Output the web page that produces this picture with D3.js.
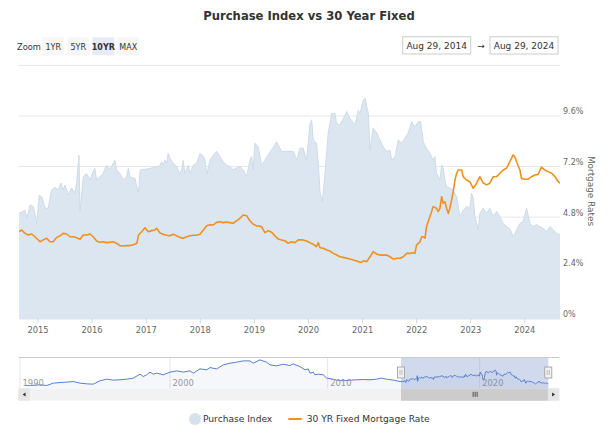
<!DOCTYPE html>
<html><head><meta charset="utf-8">
<script src="https://cdn.jsdelivr.net/npm/d3@7"></script>
<style>
body{margin:0;background:#fff}
svg{display:block}
text{font-family:"DejaVu Sans","Lucida Grande",Arial,sans-serif}
</style>
</head><body>
<svg id="c" width="610" height="435"></svg>
<script>
// ---------- DATA ----------
const chartTitle = "Purchase Index vs 30 Year Fixed";
const zoomButtons = ["1YR","5YR","10YR","MAX"];
const selectedButton = "10YR";
const rangeFromLabel = "Aug 29, 2014";
const rangeToLabel = "Aug 29, 2024";
const rangeStart = "2014-08-29";
const rangeEnd = "2024-08-29";
const yearTicks = [2015,2016,2017,2018,2019,2020,2021,2022,2023,2024];
const rateTicks = [0,2.4,4.8,7.2,9.6,12];
const navYearTicks = [1990,2000,2010,2020];
const legendItems = ["Purchase Index","30 YR Fixed Mortgage Rate"];
const rateAxisTitle = "Mortgage Rates";

const purchaseDates = ["2014-08-29","2014-10-09","2014-10-20","2014-11-12","2014-12-04","2014-12-27","2015-01-13","2015-01-29","2015-02-21","2015-03-14","2015-04-06","2015-04-28","2015-05-21","2015-06-08","2015-06-24","2015-07-05","2015-07-27","2015-08-19","2015-09-11","2015-09-22","2015-10-08","2015-10-15","2015-11-06","2015-11-29","2015-12-21","2016-01-12","2016-01-23","2016-02-04","2016-02-26","2016-03-19","2016-04-11","2016-05-04","2016-05-26","2016-06-06","2016-06-18","2016-07-10","2016-08-02","2016-08-25","2016-09-05","2016-09-17","2016-10-21","2016-11-02","2016-11-13","2016-11-24","2017-01-08","2017-04-06","2017-04-18","2017-04-28","2017-05-10","2017-05-21","2017-06-02","2017-06-13","2017-07-05","2017-07-28","2017-08-19","2017-08-31","2017-09-11","2017-09-22","2017-10-15","2017-10-26","2017-11-18","2017-12-11","2018-01-02","2018-01-25","2018-02-05","2018-02-17","2018-03-11","2018-04-02","2018-04-25","2018-05-17","2018-06-08","2018-07-01","2018-07-23","2018-08-14","2018-09-28","2018-10-21","2018-11-13","2018-12-05","2018-12-16","2018-12-27","2019-01-08","2019-01-30","2019-02-22","2019-03-16","2019-06-04","2019-07-07","2019-09-24","2019-10-17","2019-11-08","2019-11-30","2019-12-23","2020-01-14","2020-01-26","2020-02-06","2020-02-28","2020-03-11","2020-03-23","2020-04-07","2020-04-25","2020-05-17","2020-06-09","2020-07-01","2020-07-13","2020-08-04","2020-08-27","2020-09-19","2020-10-11","2020-11-14","2020-12-06","2020-12-17","2021-01-09","2021-01-21","2021-02-01","2021-02-12","2021-02-23","2021-03-17","2021-04-09","2021-05-01","2021-05-24","2021-06-16","2021-07-08","2021-07-19","2021-08-11","2021-09-02","2021-09-25","2021-10-17","2021-11-08","2021-12-01","2021-12-23","2022-01-15","2022-01-31","2022-02-18","2022-03-12","2022-04-03","2022-04-26","2022-05-07","2022-05-18","2022-06-10","2022-06-22","2022-07-02","2022-07-14","2022-07-25","2022-08-16","2022-09-08","2022-10-01","2022-10-23","2022-11-14","2022-12-07","2022-12-29","2023-01-10","2023-01-21","2023-02-02","2023-02-24","2023-03-07","2023-03-29","2023-04-21","2023-05-13","2023-06-05","2023-06-28","2023-07-20","2023-08-11","2023-09-03","2023-09-25","2023-10-18","2023-11-10","2023-12-02","2023-12-24","2024-01-16","2024-02-08","2024-03-01","2024-03-24","2024-04-15","2024-05-08","2024-05-31","2024-06-22","2024-07-14","2024-08-06","2024-08-29"];
const purchaseValues = [166,171,158,179,177,150,195,192,174,174,203,207,203,214,203,211,195,206,198,214,258,169,224,229,219,232,237,219,224,229,242,235,245,250,235,229,219,224,237,224,221,208,198,235,236,241,248,242,250,245,261,253,245,240,229,235,250,229,242,229,242,245,261,256,250,227,250,258,264,256,248,242,240,235,240,235,224,250,256,235,277,271,242,250,279,264,264,250,269,269,250,306,314,282,277,245,198,184,229,293,324,324,308,306,316,327,316,306,329,324,345,348,335,324,266,301,293,282,271,264,266,250,256,282,277,285,293,311,303,311,311,279,269,261,250,256,229,219,242,237,219,208,206,203,192,161,171,177,174,198,190,161,140,166,174,166,174,161,169,161,150,145,142,129,140,150,153,174,150,145,148,145,142,137,145,140,134,132];

const rateDates = ["2014-08-29","2014-09-16","2014-10-09","2014-10-31","2014-11-23","2014-12-15","2015-01-18","2015-02-09","2015-03-04","2015-03-26","2015-04-17","2015-05-10","2015-06-02","2015-06-24","2015-07-17","2015-08-08","2015-08-31","2015-09-22","2015-10-15","2015-11-06","2015-11-29","2015-12-21","2016-01-12","2016-02-04","2016-02-26","2016-03-19","2016-04-11","2016-05-04","2016-05-26","2016-06-18","2016-07-10","2016-08-02","2016-08-25","2016-09-17","2016-10-10","2016-11-02","2016-11-13","2016-12-05","2016-12-27","2017-01-18","2017-02-10","2017-03-04","2017-03-15","2017-04-06","2017-04-28","2017-05-21","2017-06-13","2017-07-05","2017-07-28","2017-08-19","2017-09-11","2017-10-04","2017-10-26","2017-11-18","2017-12-11","2018-01-02","2018-01-25","2018-02-17","2018-03-11","2018-04-02","2018-04-25","2018-05-17","2018-06-08","2018-07-01","2018-07-23","2018-08-14","2018-09-06","2018-09-28","2018-10-21","2018-11-13","2018-12-05","2018-12-27","2019-01-19","2019-02-22","2019-03-16","2019-04-08","2019-05-01","2019-05-23","2019-06-15","2019-07-07","2019-07-30","2019-08-21","2019-09-13","2019-10-05","2019-10-28","2019-11-08","2019-11-30","2019-12-23","2020-01-14","2020-02-06","2020-02-28","2020-03-11","2020-03-23","2020-04-14","2020-05-07","2020-05-29","2020-06-20","2020-07-13","2020-08-04","2020-08-27","2020-09-19","2020-10-11","2020-11-03","2020-11-26","2020-12-17","2020-12-28","2021-01-09","2021-02-01","2021-02-23","2021-03-17","2021-04-09","2021-05-01","2021-05-24","2021-06-16","2021-07-08","2021-07-31","2021-08-23","2021-09-14","2021-10-06","2021-10-29","2021-11-20","2021-12-13","2021-12-23","2022-01-04","2022-01-26","2022-02-07","2022-02-18","2022-03-01","2022-03-12","2022-04-03","2022-04-15","2022-04-26","2022-05-18","2022-05-30","2022-06-10","2022-06-22","2022-07-02","2022-07-14","2022-07-25","2022-08-06","2022-08-16","2022-08-28","2022-09-08","2022-09-20","2022-10-01","2022-10-12","2022-11-04","2022-11-14","2022-12-07","2022-12-29","2023-01-21","2023-02-13","2023-03-07","2023-03-29","2023-04-21","2023-05-13","2023-06-05","2023-06-28","2023-07-20","2023-08-11","2023-09-03","2023-09-25","2023-10-18","2023-10-29","2023-11-10","2023-12-02","2023-12-13","2024-01-05","2024-01-27","2024-02-19","2024-03-12","2024-04-03","2024-04-26","2024-05-18","2024-06-10","2024-07-03","2024-07-26","2024-08-17","2024-08-29"];
const rateValues = [4.11,4.19,4.03,3.95,4.00,3.87,3.63,3.72,3.80,3.63,3.63,3.84,3.91,4.03,4.00,3.87,3.87,3.82,3.75,3.95,3.95,4.00,3.87,3.67,3.61,3.63,3.59,3.61,3.63,3.56,3.45,3.43,3.45,3.45,3.49,3.56,3.95,4.11,4.30,4.11,4.16,4.19,4.27,4.06,3.99,3.94,3.92,3.99,3.92,3.84,3.80,3.87,3.92,3.94,3.94,3.99,4.19,4.39,4.44,4.43,4.55,4.58,4.54,4.57,4.54,4.51,4.62,4.74,4.90,4.87,4.63,4.47,4.39,4.35,4.06,4.16,4.08,3.91,3.76,3.72,3.68,3.56,3.63,3.59,3.72,3.72,3.72,3.67,3.59,3.51,3.40,3.59,3.35,3.32,3.24,3.19,3.08,3.00,2.92,2.89,2.85,2.81,2.77,2.72,2.66,2.66,2.73,2.69,2.92,3.16,3.05,3.00,3.00,3.00,2.92,2.81,2.85,2.85,2.92,3.08,3.08,3.11,3.08,3.48,3.61,3.87,3.87,3.80,4.35,4.82,5.06,5.30,5.22,5.06,5.22,5.77,5.46,5.53,5.22,4.98,5.22,5.61,6.01,6.56,6.88,7.04,7.04,6.72,6.56,6.48,6.17,6.41,6.72,6.43,6.33,6.41,6.72,6.72,6.88,7.04,7.12,7.43,7.75,7.67,7.43,7.04,6.64,6.60,6.60,6.72,6.80,6.83,7.17,7.04,6.96,6.88,6.72,6.48,6.41];

// Purchase index history shown only in the navigator (before the selected range)
const navHistDates = ["1990-05-25","1990-09-01","1991-05-01","1991-10-12","1992-03-20","1992-09-01","1993-02-10","1993-07-20","1994-01-01","1994-06-12","1994-11-20","1995-05-01","1995-10-12","1996-03-20","1996-09-01","1997-02-10","1997-07-20","1998-01-01","1998-03-20","1998-06-12","1998-09-01","1998-11-20","1999-02-10","1999-07-20","2000-01-01","2000-06-03","2000-11-03","2001-04-06","2001-06-24","2001-11-25","2002-04-30","2002-07-16","2002-12-17","2003-05-19","2003-10-20","2004-03-21","2004-08-24","2005-01-25","2005-04-12","2005-09-15","2006-02-16","2006-05-04","2006-10-05","2007-03-07","2007-08-10","2007-10-26","2008-03-28","2008-07-23","2008-10-08","2008-11-16","2009-02-02","2009-03-10","2009-05-27","2009-09-20","2009-12-09","2010-04-01","2010-07-27","2010-12-28","2011-06-02","2011-11-03","2012-04-05","2012-09-08","2013-02-12","2013-06-06","2013-10-01","2014-03-03","2014-08-07"];
const navHistValues = [106,104,115,104,141,150,157,166,141,130,125,177,203,188,193,203,219,281,244,271,313,281,297,271,313,333,313,333,297,364,349,384,364,427,453,469,489,489,453,505,469,427,411,437,416,442,400,349,364,297,313,271,281,271,219,208,188,177,188,193,197,193,203,219,203,188,166];

// ---------- BUILD ----------
const parse = d3.timeParse("%Y-%m-%d");
const purchase = purchaseDates.map((d,i)=>({date:parse(d), value:purchaseValues[i]}));
const rate = rateDates.map((d,i)=>({date:parse(d), value:rateValues[i]}));
const navData = navHistDates.map((d,i)=>({date:parse(d), value:navHistValues[i]})).concat(purchase);
const t0 = parse(rangeStart), t1 = parse(rangeEnd);

const svg = d3.select("#c");
const P = {left:19, right:560, top:65.4, bottom:318.3};

const x = d3.scaleTime().domain([t0,t1]).range([P.left,P.right]);
const yRate = d3.scaleLinear().domain([0,12]).range([P.bottom,P.top]);
const yIdx = d3.scaleLinear().domain([0,400]).range([P.bottom,P.top]);

// Title
svg.append("text").attr("x",309).attr("y",20).attr("text-anchor","middle")
  .attr("font-size",11.6).attr("font-weight","bold").attr("fill","#333").text(chartTitle);

// Range selector
svg.append("text").attr("x",17).attr("y",49.5).attr("font-size",8.3).attr("fill","#333").text("Zoom");
const btn = svg.append("g").selectAll("g").data(zoomButtons).join("g")
  .attr("transform",(d,i)=>`translate(${42.3+i*25},37.3)`);
btn.append("rect").attr("width",22).attr("height",17.7)
  .attr("fill",d=>d===selectedButton?"#e6ebf5":"#f7f7f7");
btn.append("text").attr("x",11).attr("y",12.3).attr("text-anchor","middle")
  .attr("font-size",8).attr("fill","#333")
  .attr("font-weight",d=>d===selectedButton?"bold":"normal").text(d=>d);

const inputs = svg.append("g").selectAll("g").data([rangeFromLabel,rangeToLabel]).join("g")
  .attr("transform",(d,i)=>`translate(${402.7+i*87.3},36.7)`);
inputs.append("rect").attr("width",68).attr("height",17.3).attr("fill","#fff").attr("stroke","#ccc");
inputs.append("text").attr("x",34).attr("y",12.3).attr("text-anchor","middle")
  .attr("font-size",9).attr("fill","#333").text(d=>d);
svg.append("text").attr("x",481).attr("y",49).attr("text-anchor","middle")
  .attr("font-size",9).attr("fill","#333").text("→");

// Gridlines
svg.append("g").selectAll("line").data(rateTicks.filter(d=>d>0)).join("line")
  .attr("x1",P.left).attr("x2",P.right)
  .attr("y1",d=>yRate(d)).attr("y2",d=>yRate(d))
  .attr("stroke","#e6e6e6").attr("stroke-width",1);

// Clip
svg.append("clipPath").attr("id","plotclip").append("rect")
  .attr("x",P.left).attr("y",P.top-5).attr("width",P.right-P.left).attr("height",P.bottom-P.top+5);
const plot = svg.append("g").attr("clip-path","url(#plotclip)");

// Purchase index area
plot.append("path").datum(purchase)
  .attr("d",d3.area().x(d=>x(d.date)).y0(P.bottom).y1(d=>yIdx(d.value)))
  .attr("fill","#dce6f0");
plot.append("path").datum(purchase)
  .attr("d",d3.line().x(d=>x(d.date)).y(d=>yIdx(d.value)))
  .attr("fill","none").attr("stroke","#cddbe8").attr("stroke-width",1);

// Mortgage rate line
plot.append("path").datum(rate)
  .attr("d",d3.line().x(d=>x(d.date)).y(d=>yRate(d.value)))
  .attr("fill","none").attr("stroke","#f0901e").attr("stroke-width",1.6)
  .attr("stroke-linejoin","round");

// X axis
const xAxis = svg.append("g").attr("transform",`translate(0,${P.bottom})`)
  .call(d3.axisBottom(x).tickValues(yearTicks.map(y=>new Date(y,0,1)))
    .tickFormat(d3.timeFormat("%Y")).tickSize(5).tickPadding(4).tickSizeOuter(0));
xAxis.select(".domain").attr("stroke","#ccd6eb");
xAxis.selectAll(".tick line").attr("stroke","#ccd6eb");
xAxis.selectAll(".tick text").attr("fill","#666").attr("font-size",8.3)
  .attr("font-family","DejaVu Sans, sans-serif");

// Right axis labels
svg.append("g").selectAll("text").data(rateTicks.filter(d=>d<12)).join("text")
  .attr("x",P.right+3).attr("y",d=>yRate(d)-1.5)
  .attr("font-size",8).attr("fill","#666").text(d=>d+"%");
svg.append("text").attr("transform","translate(588,191) rotate(90)")
  .attr("text-anchor","middle").attr("font-size",8.9).attr("fill","#666").text(rateAxisTitle);

// ---------- NAVIGATOR ----------
const N = {left:18.3, right:559.3, top:357, bottom:388.3};
const nx = d3.scaleTime()
  .domain([new Date(1990,0,1), new Date(2000,0,1), new Date(2010,0,1), t0, t1])
  .range([20,170,327.7,401,548.3]);
const ny = d3.scaleLinear().domain([60,550]).range([N.bottom,N.top]);

svg.append("g").selectAll("line").data(navYearTicks).join("line")
  .attr("x1",d=>nx(new Date(d,0,1))).attr("x2",d=>nx(new Date(d,0,1)))
  .attr("y1",N.top).attr("y2",N.bottom).attr("stroke","#e6e6e6");
svg.append("path").datum(navData)
  .attr("d",d3.area().x(d=>nx(d.date)).y0(N.bottom).y1(d=>ny(d.value)))
  .attr("fill","#335cad").attr("fill-opacity",0.05);
svg.append("path").datum(navData)
  .attr("d",d3.line().x(d=>nx(d.date)).y(d=>ny(d.value)))
  .attr("fill","none").attr("stroke","#5a7ecf").attr("stroke-width",1);
svg.append("g").selectAll("text").data(navYearTicks).join("text")
  .attr("x",d=>nx(new Date(d,0,1))+2.5).attr("y",385.5)
  .attr("font-size",8.4).attr("fill","#999").text(d=>d);

// mask
svg.append("rect").attr("x",nx(t0)).attr("y",N.top).attr("width",nx(t1)-nx(t0)).attr("height",N.bottom-N.top)
  .attr("fill","rgba(102,133,194,0.3)");
svg.append("line").attr("x1",N.left).attr("x2",N.right).attr("y1",N.top+0.5).attr("y2",N.top+0.5)
  .attr("stroke","#ccc");

// scrollbar
const SB = {top:388.3, h:12.4};
svg.append("rect").attr("x",N.left).attr("y",SB.top).attr("width",N.right-N.left).attr("height",SB.h).attr("fill","#f2f2f2");
svg.append("rect").attr("x",nx(t0)).attr("y",SB.top).attr("width",nx(t1)-nx(t0)).attr("height",SB.h).attr("fill","#cccccc");
const midT = (nx(t0)+nx(t1))/2;
svg.append("g").selectAll("line").data([-2,0,2]).join("line")
  .attr("x1",d=>midT+d+0.5).attr("x2",d=>midT+d+0.5).attr("y1",SB.top+3.5).attr("y2",SB.top+8.5)
  .attr("stroke","#333").attr("stroke-width",0.8);
[[N.left,-1],[N.right-11.5,1]].forEach(([bx,dir])=>{
  svg.append("rect").attr("x",bx).attr("y",SB.top).attr("width",11.5).attr("height",SB.h).attr("fill","#e6e6e6");
  const cx=bx+5.75, cy=SB.top+SB.h/2;
  svg.append("path").attr("d",`M${cx-1.5*dir},${cy-2}L${cx+1.5*dir},${cy}L${cx-1.5*dir},${cy+2}Z`).attr("fill","#333");
});

// handles
svg.append("g").selectAll("g").data([t0,t1]).join("g")
  .attr("transform",d=>`translate(${nx(d)},367)`)
  .each(function(){
    const g=d3.select(this);
    g.append("rect").attr("x",-3.5).attr("y",0).attr("width",7).attr("height",11)
      .attr("fill","#f2f2f2").attr("stroke","#999").attr("stroke-width",0.8);
    g.append("line").attr("x1",-1).attr("x2",-1).attr("y1",3).attr("y2",8).attr("stroke","#999").attr("stroke-width",0.6);
    g.append("line").attr("x1",1).attr("x2",1).attr("y1",3).attr("y2",8).attr("stroke","#999").attr("stroke-width",0.6);
  });

// ---------- LEGEND ----------
const lg = svg.append("g");
lg.append("circle").attr("cx",195).attr("cy",419).attr("r",6).attr("fill","#d5e1ec");
lg.append("text").attr("x",203).attr("y",422.3).attr("font-size",9.1).attr("fill","#333").text(legendItems[0]);
lg.append("line").attr("x1",288.3).attr("x2",301.7).attr("y1",419).attr("y2",419)
  .attr("stroke","#f0901e").attr("stroke-width",2);
lg.append("text").attr("x",306.7).attr("y",422.3).attr("font-size",9.1).attr("fill","#333").text(legendItems[1]);
</script>
</body></html>
